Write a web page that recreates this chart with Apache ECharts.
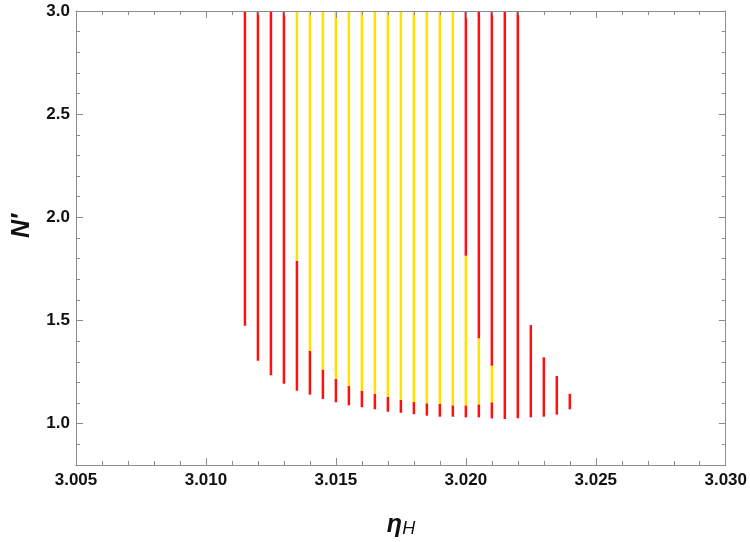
<!DOCTYPE html>
<html>
<head>
<meta charset="utf-8">
<script src="https://cdn.jsdelivr.net/npm/echarts@6/dist/echarts.min.js"></script>
<style>html,body{margin:0;padding:0;background:#fff;}#c{width:750px;height:542px;}</style>
</head>
<body>
<div id="c"></div>
<script>
const eta = [3.0115,3.0120,3.0125,3.0130,3.0135,3.0140,3.0145,3.0150,3.0155,3.0160,3.0165,3.0170,3.0175,
             3.0180,3.0185,3.0190,3.0195,3.0200,3.0205,3.0210,3.0215,3.0220,3.0225,3.0230,3.0235,3.0240];
const nLow = [1.475,1.305,1.235,1.194,1.160,1.141,1.120,1.104,1.089,1.080,1.070,1.058,1.053,
              1.046,1.039,1.034,1.034,1.031,1.031,1.026,1.023,1.026,1.031,1.034,1.044,1.070];
const nHigh = [3,3,3,3,3,3,3,3,3,3,3,3,3,
               3,3,3,3,3,3,3,3,3,1.478,1.322,1.231,1.145];
const yellowLow = [null,null,null,null,1.790,1.354,1.263,1.218,1.184,1.159,1.144,1.131,1.115,
                   1.105,1.099,1.096,1.089,1.089,1.094,1.104,null,null,null,null,null,null];
const yellowHigh = [null,null,null,null,3,3,3,3,3,3,3,3,3,
                    3,3,3,3,1.814,1.414,1.281,null,null,null,null,null,null];
const xTicks = [3.005,3.010,3.015,3.020,3.025,3.030];
const yTicks = [1.0,1.5,2.0,2.5,3.0];

const RED = '#ff1010', YELLOW = '#ffe100';
const segs = [];
for (let i = 0; i < eta.length; i++) {
  if (yellowLow[i] == null) {
    segs.push([eta[i], nLow[i], nHigh[i], 0]);
  } else {
    segs.push([eta[i], nLow[i], yellowLow[i], 0]);
    segs.push([eta[i], yellowLow[i], yellowHigh[i], 1]);
    if (yellowHigh[i] < nHigh[i]) segs.push([eta[i], yellowHigh[i], nHigh[i], 0]);
  }
}

const FRAME = '#8c8c8c';
const labelFont = {fontFamily:'Liberation Sans', fontWeight:'bold', fontSize:17, color:'#111'};
const chart = echarts.init(document.getElementById('c'), null, {renderer:'canvas'});
const xBase = {
  type:'value', min:3.005, max:3.030, interval:0.005,
  axisLine:{show:true, lineStyle:{color:FRAME, width:1}},
  axisTick:{show:true, inside:true, length:7, lineStyle:{color:FRAME}},
  minorTick:{show:true, splitNumber:5, length:4, lineStyle:{color:FRAME}},
  splitLine:{show:false}, minorSplitLine:{show:false}
};
const yMajor = {
  type:'value', min:0.8, max:3.0,
  axisLine:{show:true, lineStyle:{color:FRAME, width:1}},
  axisTick:{show:true, inside:true, length:7, customValues:yTicks, lineStyle:{color:FRAME}},
  splitLine:{show:false}
};
const yMinor = {
  type:'value', min:0.8, max:3.0, interval:0.1,
  axisLine:{show:false},
  axisTick:{show:true, inside:true, length:4, lineStyle:{color:FRAME}},
  axisLabel:{show:false}, splitLine:{show:false}
};
chart.setOption({
  animation:false,
  grid:{left:76, right:24, top:11, bottom:77},
  xAxis:[
    Object.assign({}, xBase, {position:'bottom',
      axisLabel:Object.assign({show:true, margin:7, formatter:v=>v.toFixed(3), showMinLabel:true, showMaxLabel:true}, labelFont)}),
    Object.assign({}, xBase, {position:'top', z:10, axisLabel:{show:false}})
  ],
  yAxis:[
    Object.assign({}, yMajor, {position:'left',
      axisLabel:Object.assign({show:true, margin:6, customValues:yTicks, formatter:v=>v.toFixed(1)}, labelFont)}),
    Object.assign({}, yMajor, {position:'right', axisLabel:{show:false}}),
    Object.assign({}, yMinor, {position:'left'}),
    Object.assign({}, yMinor, {position:'right'})
  ],
  series:[{
    type:'custom',
    xAxisIndex:0, yAxisIndex:0,
    data:segs,
    encode:{x:0, y:[1,2]},
    renderItem:function(params, api){
      const x = api.value(0);
      const p1 = api.coord([x, api.value(1)]);
      const p2 = api.coord([x, api.value(2)]);
      return {
        type:'line',
        shape:{x1:p1[0], y1:p1[1], x2:p2[0], y2:p2[1]},
        style:{stroke: api.value(3) ? YELLOW : RED, lineWidth:2.5, lineCap:'butt'}
      };
    }
  }],
  graphic:[
    {type:'text', x:22, y:226, rotation:Math.PI/2,
     style:{text:'N′', fontFamily:'Liberation Sans', fontWeight:'bold', fontStyle:'italic', fontSize:25,
            fill:'#111', align:'center', verticalAlign:'middle'}},
    {type:'text', x:401, y:525,
     style:{text:'{a|η}{b|H}', align:'center', verticalAlign:'middle',
       rich:{
         a:{fontFamily:'Liberation Sans', fontStyle:'italic', fontWeight:'bold', fontSize:25, fill:'#111', verticalAlign:'bottom'},
         b:{fontFamily:'Liberation Sans', fontStyle:'italic', fontSize:18, fill:'#111', padding:[8,0,0,0], verticalAlign:'bottom'}
       }}}
  ]
});
</script>
</body>
</html>
